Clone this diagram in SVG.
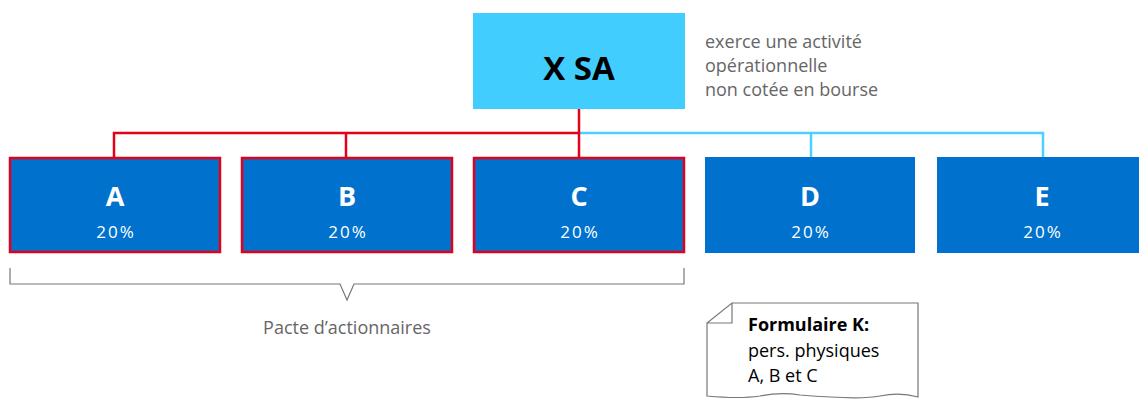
<svg xmlns="http://www.w3.org/2000/svg" width="1139" height="399" viewBox="0 0 1139 399">
<style>
.t{font-family:"Open Sans","Noto Sans",sans-serif}
.box{fill:#0072CE}
.red{stroke:#E2001A;stroke-width:2.5;fill:none}
.cy{stroke:#4DD0FF;stroke-width:2.5;fill:none}
.lbl{font-weight:bold;font-size:27px;fill:#fff;text-anchor:middle}
.pct{font-size:17px;fill:#fff;text-anchor:middle;letter-spacing:2px}
.gray{font-size:18px;fill:#666}
.gl{stroke:#777;stroke-width:1.2;fill:none}
</style>
<g id="connectors">
<path class="cy" d="M579 133 H1043 V158 M811 133 V158"/>
<path class="red" d="M579 109 V158 M114 158 V133 H579 M346 133 V158"/>
</g>
<g id="xsa">
<rect x="473" y="13" width="212" height="96" fill="#42CDFF"/>
<text class="t" x="579" y="80" text-anchor="middle" font-size="33" font-weight="bold" fill="#000">X SA</text>
</g>
<g id="xsa-note">
<text class="t gray" x="705" y="48">exerce une activité</text>
<text class="t gray" x="705" y="72">opérationnelle</text>
<text class="t gray" x="705" y="96">non cotée en bourse</text>
</g>
<g id="A"><rect class="box" x="10" y="158" width="210" height="94"/><rect class="red" x="10" y="158" width="210" height="94"/><text class="t lbl" x="115" y="206">A</text><text class="t pct" x="116" y="238">20%</text></g>
<g id="B"><rect class="box" x="242" y="158" width="210" height="94"/><rect class="red" x="242" y="158" width="210" height="94"/><text class="t lbl" x="347" y="206">B</text><text class="t pct" x="348" y="238">20%</text></g>
<g id="C"><rect class="box" x="474" y="158" width="210" height="94"/><rect class="red" x="474" y="158" width="210" height="94"/><text class="t lbl" x="579" y="206">C</text><text class="t pct" x="580" y="238">20%</text></g>
<g id="D"><rect class="box" x="705" y="157" width="210" height="96"/><text class="t lbl" x="810" y="206">D</text><text class="t pct" x="811" y="238">20%</text></g>
<g id="E"><rect class="box" x="937" y="157" width="202" height="96"/><text class="t lbl" x="1042" y="206">E</text><text class="t pct" x="1043" y="238">20%</text></g>
<g id="pacte">
<path class="gl" d="M10 268 V284 H340 L347 300 L354 284 H684 V268"/>
<text class="t gray" x="347" y="334" text-anchor="middle">Pacte d’actionnaires</text>
</g>
<g id="formulaire">
<path class="gl" d="M732 303 H918 V397 Q900 392 880 396 Q860 400 800 395 Q780 392 760 396 Q740 399 707 396 V323 Z M707 323 H732 V303"/>
<text class="t" x="748" y="331" font-size="18" font-weight="bold" fill="#000">Formulaire K:</text>
<text class="t" x="748" y="357" font-size="18" fill="#000">pers. physiques</text>
<text class="t" x="748" y="382" font-size="18" fill="#000">A, B et C</text>
</g>
</svg>
